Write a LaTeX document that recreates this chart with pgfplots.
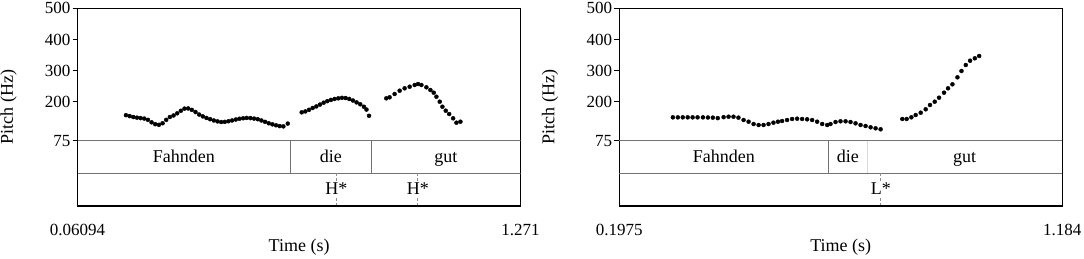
\documentclass[border=0pt]{standalone}
\usepackage{fontspec}
\setmainfont{Liberation Serif}
\usepackage{pgfplots}
\pgfplotsset{compat=1.18}
\tikzset{lab/.style={text height=1.5ex, text depth=0.25ex, anchor=center}}
\pgfplotsset{
  praat/.style={
    width=443pt, height=197.7pt, scale only axis,
    ymin=-134.6, ymax=500,
    ytick={75,200,300,400,500},
    yticklabels={75,200,300,400,500},
    ytick pos=left,
    tick align=outside,
    major tick length=5pt,
    ytick style={black, line width=0.8pt},
    xtick style={draw=none},
    axis line style={black, line width=0.9pt},
    font=\fontsize{18}{21}\selectfont,
    every tick label/.append style={font=\fontsize{17}{20}\selectfont},
    yticklabel style={inner sep=2pt},
    xticklabel style={anchor=base, yshift=-24pt},
    ylabel={Pitch (Hz)},
    xlabel={Time (s)},
    ylabel style={at={(axis description cs:-0.156,0.5)}, anchor=center},
    xlabel style={at={(axis description cs:0.5,-0.207)}, anchor=center},
    tier/.style={black!55, line width=0.8pt},
    pts/.style={only marks, mark=*, mark size=2pt, black},
  }
}
\begin{document}
\fontsize{18}{21}\selectfont
\begin{tikzpicture}
\useasboundingbox (0pt,0pt) rectangle (1084pt,258pt);
% ---------------- left panel ----------------
\begin{axis}[praat, name=L, at={(77.6pt,52pt)}, anchor=south west,
  xmin=0.06094, xmax=1.271, xtick={0.06094,1.271}, xticklabels={0.06094,1.271}]
\addplot[tier] coordinates {(0.06094,75) (1.271,75)};
\addplot[tier] coordinates {(0.06094,-29.7) (1.271,-29.7)};
\addplot[tier] coordinates {(0.6420,75) (0.6420,-29.7)};
\addplot[tier] coordinates {(0.8632,75) (0.8632,-29.7)};
\addplot[black!45, line width=0.8pt, dash pattern=on 3pt off 2pt] coordinates {(0.7681,-29.7) (0.7681,-134.6)};
\addplot[black!45, line width=0.8pt, dash pattern=on 3pt off 2pt] coordinates {(0.9904,-29.7) (0.9904,-134.6)};
\node[lab] at (axis cs:0.3515,22.6) {Fahnden};
\node[lab] at (axis cs:0.7526,22.6) {die};
\node[lab] at (axis cs:1.0671,22.6) {gut};
\node[lab, fill=white, inner sep=1.5pt] at (axis cs:0.7681,-82.2) {H*};
\node[lab, fill=white, inner sep=1.5pt] at (axis cs:0.9904,-82.2) {H*};
\addplot[pts] coordinates {
(0.193,157) (0.203,154) (0.213,151) (0.223,149) (0.233,147.5) (0.243,146)
(0.253,142) (0.263,134) (0.273,128) (0.283,126) (0.293,131) (0.303,142)
(0.313,151) (0.323,156) (0.333,163) (0.343,171) (0.353,178) (0.363,178.5)
(0.373,174) (0.383,167) (0.393,159) (0.403,153) (0.413,148) (0.423,144)
(0.433,140) (0.443,137) (0.453,135) (0.463,135.5) (0.473,137.5) (0.483,140)
(0.493,143) (0.503,145.5) (0.513,147) (0.523,148) (0.533,147.5) (0.543,146)
(0.553,144) (0.563,140) (0.573,135.5) (0.583,131) (0.593,127.5) (0.603,124.5)
(0.613,122) (0.623,121) (0.635,130)
};
\addplot[pts] coordinates {
(0.673,166) (0.683,169) (0.693,174) (0.703,180) (0.713,185) (0.723,191)
(0.733,197) (0.743,202) (0.753,206) (0.763,209) (0.773,211) (0.783,212.5)
(0.793,212) (0.803,209) (0.813,204) (0.823,198) (0.833,192) (0.843,184)
(0.850,175) (0.857,155)
};
\addplot[pts] coordinates {
(0.9041,211.1) (0.9132,214.3) (0.9269,224.9) (0.9406,235.5) (0.9542,243.2)
(0.9679,248.3) (0.9816,253.8) (0.9909,257.0) (1.0000,253.8) (1.0137,246.4)
(1.0246,237.7) (1.0337,229.1) (1.0410,216.2) (1.0501,200.2) (1.0574,184.1)
(1.0665,171.3) (1.0758,160.7) (1.0867,146.9) (1.0958,132.8) (1.1067,136.0)
};
\end{axis}
\draw[line width=1.8pt] (L.south west) -- (L.south east);
% ---------------- right panel ----------------
\begin{axis}[praat, name=R, at={(619.2pt,52pt)}, anchor=south west,
  xmin=0.1975, xmax=1.184, xtick={0.1975,1.184}, xticklabels={0.1975,1.184}]
\addplot[tier] coordinates {(0.1975,75) (1.184,75)};
\addplot[tier] coordinates {(0.1975,-29.7) (1.184,-29.7)};
\addplot[tier] coordinates {(0.6638,75) (0.6638,-29.7)};
\addplot[black!15, line width=0.8pt] coordinates {(0.7493,75) (0.7493,-29.7)};
\addplot[black!45, line width=0.8pt, dash pattern=on 3pt off 2pt] coordinates {(0.7800,-29.7) (0.7800,-134.6)};
\node[lab] at (axis cs:0.4307,22.6) {Fahnden};
\node[lab] at (axis cs:0.7066,22.6) {die};
\node[lab] at (axis cs:0.9667,22.6) {gut};
\node[lab, fill=white, inner sep=1.5pt] at (axis cs:0.7800,-82.2) {L*};
\addplot[pts] coordinates {
(0.317,150) (0.328,150) (0.339,150) (0.350,150) (0.361,150) (0.372,150)
(0.384,150) (0.395,149.5) (0.406,149) (0.417,147.5) (0.430,150.5) (0.441,152)
(0.452,152) (0.463,149) (0.4745,141.4) (0.4856,136) (0.4968,128.6) (0.508,125.4)
(0.519,125.4) (0.530,128.6) (0.541,132.8) (0.551,136) (0.5602,138.2) (0.5713,141.4)
(0.5825,144.7) (0.5937,145.7) (0.6048,144.7) (0.6160,143.7) (0.6271,141.4)
(0.6383,136) (0.6495,128.6) (0.6606,125.4) (0.668,128.6) (0.6792,135)
(0.6903,137.3) (0.7015,137.3) (0.7126,135) (0.7238,130.8) (0.7350,125.4)
(0.7461,122.2) (0.7573,118) (0.7684,114.8) (0.7796,111.6)
};
\addplot[pts] coordinates {
(0.8280,144.7) (0.8376,144.7) (0.8481,150.1) (0.8577,157.5) (0.8689,164.9)
(0.8800,175.8) (0.8896,189.6) (0.9001,200.2) (0.9097,213) (0.9209,229.1)
(0.9298,243.2) (0.9396,256) (0.9507,278.5) (0.9597,298.7) (0.9693,318)
(0.9789,331.8) (0.9894,339.5) (0.9990,346.9)
};
\end{axis}
\draw[line width=1.8pt] (R.south west) -- (R.south east);
\end{tikzpicture}
\end{document}
